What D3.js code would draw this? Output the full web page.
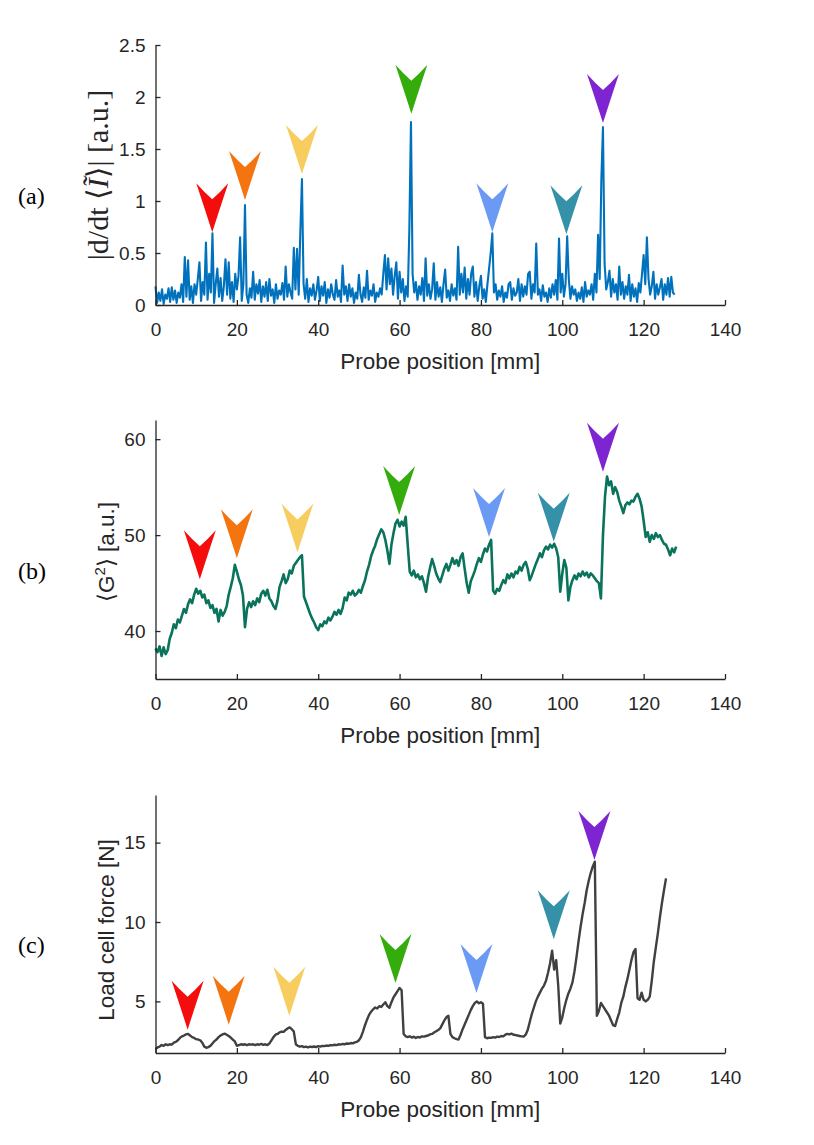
<!DOCTYPE html>
<html><head><meta charset="utf-8">
<script src="https://cdn.jsdelivr.net/npm/d3@7"></script>
<style>body{margin:0;background:#fff}</style>
</head><body>
<svg id="chart" width="814" height="1145"></svg>
<script>
// ---------------- DATA ----------------
const xTicks = [0, 20, 40, 60, 80, 100, 120, 140];
const yTicksA = [0, 0.5, 1, 1.5, 2, 2.5];
const yTickLabelsA = ["0", "0.5", "1", "1.5", "2", "2.5"];
const yTicksB = [40, 50, 60];
const yTicksC = [5, 10, 15];

// (a) |d/dt <I>| sampled every 0.4 mm from 0 mm
const stepA = 0.4;
const gradA = [
0.18,0.02,0.12,0.04,0.15,0.01,0.10,0.06,0.16,0.03,
0.17,0.05,0.14,0.02,0.12,0.07,0.20,0.03,0.46,0.08,
0.43,0.05,0.18,0.02,0.20,0.10,0.25,0.41,0.04,0.22,
0.10,0.60,0.05,0.30,0.12,0.69,0.02,0.20,0.35,0.08,
0.26,0.04,0.18,0.44,0.10,0.41,0.06,0.22,0.03,0.30,
0.15,0.28,0.65,0.04,0.20,0.96,0.10,0.02,0.16,0.07,
0.32,0.05,0.20,0.11,0.24,0.03,0.18,0.08,0.22,0.04,
0.25,0.09,0.15,0.02,0.20,0.06,0.14,0.10,0.21,0.05,
0.37,0.08,0.20,0.12,0.06,0.55,0.15,0.54,0.10,0.70,
1.21,0.20,0.06,0.25,0.03,0.16,0.09,0.20,0.05,0.14,
0.27,0.04,0.18,0.09,0.22,0.02,0.15,0.07,0.20,0.10,
0.05,0.24,0.08,0.14,0.03,0.38,0.10,0.18,0.04,0.20,
0.08,0.16,0.02,0.12,0.06,0.29,0.10,0.03,0.17,0.07,
0.33,0.05,0.14,0.09,0.20,0.03,0.12,0.08,0.16,0.10,
0.30,0.48,0.15,0.45,0.20,0.35,0.10,0.28,0.41,0.06,
0.32,0.12,0.25,0.04,0.18,0.08,0.72,1.76,0.30,0.12,
0.22,0.05,0.18,0.10,0.26,0.04,0.45,0.09,0.20,0.06,
0.15,0.40,0.05,0.22,0.08,0.17,0.03,0.20,0.34,0.07,
0.14,0.04,0.20,0.09,0.16,0.05,0.56,0.10,0.30,0.12,
0.36,0.06,0.25,0.10,0.30,0.37,0.08,0.22,0.04,0.18,
0.28,0.06,0.15,0.03,0.20,0.35,0.50,0.69,0.12,0.20,
0.05,0.14,0.08,0.18,0.03,0.12,0.07,0.20,0.22,0.05,
0.16,0.09,0.12,0.25,0.04,0.20,0.08,0.18,0.10,0.30,
0.32,0.06,0.20,0.12,0.59,0.10,0.15,0.04,0.19,0.08,
0.12,0.03,0.16,0.07,0.20,0.10,0.24,0.05,0.64,0.12,
0.30,0.08,0.20,0.66,0.25,0.06,0.18,0.10,0.15,0.04,
0.12,0.06,0.17,0.03,0.22,0.08,0.14,0.10,0.20,0.05,
0.30,0.12,0.675,0.25,1.20,1.71,0.40,0.15,0.22,0.33,
0.08,0.25,0.12,0.20,0.05,0.37,0.10,0.22,0.06,0.18,
0.10,0.29,0.04,0.20,0.08,0.16,0.03,0.21,0.12,0.30,
0.48,0.20,0.65,0.25,0.10,0.18,0.32,0.06,0.20,0.10,
0.17,0.25,0.05,0.20,0.10,0.26,0.08,0.27,0.12,0.10
];

// (b) <G^2> sampled every 0.5 mm from 0 mm
const stepB = 0.5;
const g2B = [
38.2,37.8,38.4,37.4,38.3,37.6,38.0,39.2,39.8,40.7,
40.3,41.2,40.9,41.6,42.3,41.9,42.8,43.3,42.9,43.8,
44.4,43.9,44.2,43.5,43.8,42.9,43.2,42.4,42.7,41.9,
42.3,41.0,42.2,41.6,42.0,42.6,43.8,44.6,45.5,46.9,
46.2,45.4,44.8,43.7,40.4,42.3,43.0,42.5,43.1,42.7,
43.4,43.0,43.9,44.2,43.7,44.3,43.4,43.1,42.6,42.3,
43.2,44.6,45.2,45.9,45.0,45.4,46.3,46.0,46.8,47.1,
47.4,47.7,47.9,43.6,43.0,42.4,41.8,41.3,40.9,40.4,
40.1,40.7,40.5,41.0,40.8,41.4,41.1,41.5,42.0,41.7,
42.2,41.8,42.4,43.5,43.2,44.0,43.8,44.2,43.7,43.9,
44.3,44.0,44.7,45.3,46.2,46.9,47.8,48.4,48.9,49.6,
50.1,50.6,50.3,49.5,48.4,47.0,49.0,50.2,51.2,51.6,
50.9,51.4,51.0,51.9,49.0,46.2,45.8,46.3,45.6,45.9,
45.4,45.7,45.0,44.1,45.6,46.6,47.5,46.8,46.0,45.5,
45.1,45.8,46.5,47.0,46.3,46.9,47.6,47.0,47.4,46.8,
47.7,48.1,46.5,45.0,44.0,45.2,45.7,46.3,47.0,47.6,
47.2,48.0,48.6,48.3,49.0,49.5,44.2,43.9,44.4,44.2,
44.8,45.3,45.0,45.9,45.5,46.0,45.6,46.2,46.0,46.7,
46.3,46.9,47.2,46.5,45.3,45.8,46.4,47.0,47.5,48.1,
47.7,48.4,48.8,48.5,49.0,48.7,49.1,48.6,47.7,44.1,
46.0,47.4,46.6,43.2,44.6,45.3,45.8,45.4,46.0,45.7,
46.2,45.8,46.1,45.6,46.0,45.8,45.5,45.2,45.0,43.4,
50.0,54.0,56.1,55.2,55.6,54.3,55.0,54.5,53.6,53.0,
52.3,53.1,53.4,53.2,53.6,53.5,54.0,54.3,53.8,53.0,
51.5,49.8,50.3,49.3,50.0,49.6,50.2,49.8,50.0,49.5,
49.1,49.0,48.5,47.9,48.6,48.2,48.8
];

// (c) load cell force [N] sampled every 0.5 mm from 0 mm
const stepC = 0.5;
const forceC = [
2.00,2.10,2.15,2.25,2.20,2.30,2.25,2.30,2.28,2.40,
2.45,2.55,2.70,2.80,2.85,2.92,2.95,2.85,2.75,2.70,
2.62,2.60,2.55,2.40,2.15,2.08,2.12,2.20,2.35,2.50,
2.60,2.75,2.85,2.92,2.97,2.90,2.82,2.72,2.60,2.48,
2.20,2.25,2.30,2.27,2.30,2.25,2.30,2.28,2.30,2.25,
2.30,2.27,2.32,2.26,2.30,2.25,2.35,2.55,2.75,2.90,
2.95,3.05,3.10,3.08,3.20,3.30,3.36,3.25,3.10,2.30,
2.20,2.15,2.18,2.12,2.15,2.10,2.15,2.13,2.16,2.12,
2.18,2.15,2.20,2.18,2.22,2.20,2.25,2.23,2.27,2.25,
2.30,2.28,2.32,2.30,2.35,2.33,2.38,2.36,2.42,2.45,
2.55,2.75,3.10,3.50,3.85,4.15,4.35,4.50,4.62,4.55,
4.70,4.65,4.80,4.95,4.70,4.60,4.95,5.25,5.45,5.65,
5.85,5.70,2.95,2.80,2.75,2.80,2.72,2.78,2.70,2.76,
2.72,2.80,2.78,2.82,2.85,2.92,2.95,3.05,3.12,3.20,
3.30,3.55,3.80,4.00,4.10,2.95,2.75,2.68,2.62,2.60,
2.90,3.25,3.55,3.85,4.15,4.45,4.70,4.90,5.00,4.88,
4.95,4.85,2.75,2.68,2.72,2.70,2.75,2.72,2.78,2.76,
2.82,2.80,2.90,2.95,2.92,2.97,2.90,2.88,2.85,2.82,
2.80,2.78,2.90,3.20,3.70,4.20,4.60,5.00,5.30,5.55,
5.80,6.00,6.30,6.80,7.40,8.20,7.00,7.60,6.00,3.60,
4.00,4.60,5.10,5.50,5.80,6.20,6.90,7.80,8.80,9.70,
10.5,11.2,12.0,12.6,13.1,13.5,13.8,4.10,4.40,4.90,
4.70,4.50,4.30,4.10,3.80,3.50,3.45,3.90,4.30,4.90,
5.30,5.90,6.40,7.00,7.60,8.10,8.30,5.20,5.10,5.55,
5.10,5.00,5.10,5.30,6.30,7.50,8.40,9.30,10.3,11.2,
12.0,12.75
];

// event markers (arrowheads): colours and tip positions [mm, value]
const markerColors = ["#f50c0c", "#f47510", "#f8cd5f", "#34ad0c", "#6b9af5", "#3591a8", "#7f24d1"];
const markerXA = [13.95, 22.0, 36.0, 62.9, 82.8, 101.0, 110.0];
const markerYA = [0.70, 1.01, 1.26, 1.84, 0.70, 0.68, 1.75];
const markerXB = [10.9, 20.0, 34.9, 59.9, 82.0, 97.9, 110.0];
const markerYB = [45.4, 47.6, 48.2, 52.1, 49.8, 49.3, 56.6];
const markerXC = [7.9, 18.0, 32.9, 59.0, 78.9, 97.9, 107.9];
const markerYC = [3.22, 3.53, 4.10, 6.16, 5.53, 8.92, 13.9];

// ---------------- DRAWING ----------------
const svg = d3.select("#chart");
const axisColor = "#262626";
const sans = "'Liberation Sans', Arial, Helvetica, sans-serif";
const serif = "'Liberation Serif', 'Times New Roman', 'DejaVu Serif', serif";

const x = d3.scaleLinear().domain([0, 140]).range([155.5, 725]);

const panels = [
  {id: "a", top: 45, bottom: 305, domain: [0, 2.5], ticks: yTicksA, tickFmt: (d, i) => yTickLabelsA[i],
   data: gradA, step: stepA, color: "#0072bd", width: 2.1, mx: markerXA, my: markerYA, label: "(a)"},
  {id: "b", top: 420, bottom: 679, domain: [35, 62], ticks: yTicksB, tickFmt: d => String(d),
   data: g2B, step: stepB, color: "#0a735b", width: 2.6, mx: markerXB, my: markerYB, label: "(b)"},
  {id: "c", top: 795, bottom: 1053, domain: [1.75, 18], ticks: yTicksC, tickFmt: d => String(d),
   data: forceC, step: stepC, color: "#404040", width: 2.4, mx: markerXC, my: markerYC, label: "(c)"}
];

const arrowPath = "M0,0 Q-7,-22 -16,-49 Q-8,-40 0,-33 Q8,-40 16,-49 Q7,-22 0,0 Z";

panels.forEach(p => {
  const y = d3.scaleLinear().domain(p.domain).range([p.bottom, p.top]);
  const g = svg.append("g");

  // data line
  const line = d3.line().x((d, i) => x(i * p.step)).y(d => y(d));
  g.append("path").datum(p.data)
    .attr("d", line).attr("fill", "none")
    .attr("stroke", p.color).attr("stroke-width", p.width)
    .attr("stroke-linejoin", "round");

  // x axis
  const xa = g.append("g").attr("transform", `translate(0,${p.bottom})`)
    .call(d3.axisBottom(x).tickValues(xTicks).tickSizeInner(-5).tickSizeOuter(0).tickPadding(18));
  // y axis
  const ya = g.append("g").attr("transform", `translate(${x(0)},0)`)
    .call(d3.axisLeft(y).tickValues(p.ticks).tickFormat(p.tickFmt).tickSizeInner(-5).tickSizeOuter(0).tickPadding(10));
  [xa, ya].forEach(a => {
    a.select(".domain").attr("stroke", axisColor).attr("stroke-width", 1.3);
    a.selectAll(".tick line").attr("stroke", axisColor).attr("stroke-width", 1.3);
    a.selectAll(".tick text").attr("fill", axisColor).attr("font-family", sans).attr("font-size", 19);
  });

  // x axis title
  g.append("text").attr("x", (x(0) + x(140)) / 2).attr("y", p.bottom + 64)
    .attr("text-anchor", "middle").attr("font-family", sans).attr("font-size", 22.5)
    .attr("fill", axisColor).text("Probe position [mm]");

  // panel label
  g.append("text").attr("x", 18).attr("y", (p.top + p.bottom) / 2 + 29)
    .attr("font-family", serif).attr("font-size", 24).attr("fill", "#000").text(p.label);

  // arrow markers
  g.selectAll("path.marker").data(p.mx).join("path").attr("class", "marker")
    .attr("d", arrowPath)
    .attr("transform", (d, i) => `translate(${x(d)},${y(p.my[i])})`)
    .attr("fill", (d, i) => markerColors[i]);
});

// y axis titles
const ta = svg.append("text").attr("transform", "translate(108,175) rotate(-90)")
  .attr("text-anchor", "middle").attr("font-family", serif).attr("font-size", 30).attr("fill", axisColor);
ta.append("tspan").text("|d/dt \u27E8");
ta.append("tspan").attr("font-style", "italic").text("\u0128");
ta.append("tspan").text("\u27E9| [a.u.]");

const tb = svg.append("text").attr("transform", "translate(114,552) rotate(-90)")
  .attr("text-anchor", "middle").attr("font-family", sans).attr("font-size", 22.5).attr("fill", axisColor);
tb.append("tspan").text("\u27E8G");
tb.append("tspan").attr("font-size", 15).attr("dy", -9).text("2");
tb.append("tspan").attr("dy", 9).text("\u27E9 [a.u.]");

svg.append("text").attr("transform", "translate(114,930) rotate(-90)")
  .attr("text-anchor", "middle").attr("font-family", sans).attr("font-size", 22.5).attr("fill", axisColor)
  .text("Load cell force [N]");
</script>
</body></html>
